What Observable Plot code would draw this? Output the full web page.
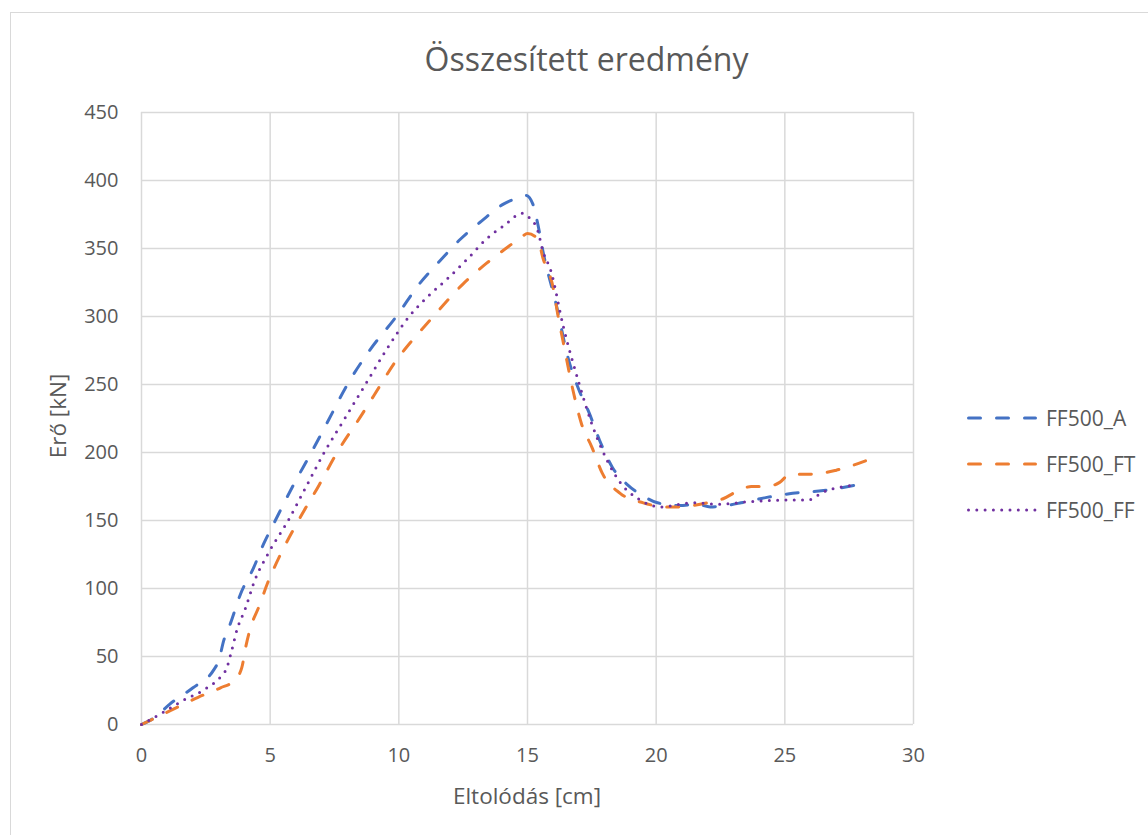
<!DOCTYPE html>
<html><head><meta charset="utf-8">
<script src="https://cdn.jsdelivr.net/npm/d3@7"></script>
<script src="https://cdn.jsdelivr.net/npm/@observablehq/plot@0.6"></script>
<style>
body{margin:0;background:#fff;font-family:"Open Sans",sans-serif;}
#wrap{position:relative;width:1148px;height:835px;overflow:hidden;background:#fff}
#border{position:absolute;left:10px;top:12px;width:1300px;height:1000px;border:1px solid #d9d9d9;box-sizing:border-box}
#title{position:absolute;left:0;width:1173px;top:37px;text-align:center;font-size:32px;color:#595959;line-height:44px}
#chart{position:absolute;left:0;top:0}
#legend{position:absolute;left:0;top:0}
.li{position:absolute;left:965px;height:30px;display:flex;align-items:center;font-size:21px;color:#595959}
.li svg{margin-right:7px}
.axt{position:absolute;font-size:22.5px;color:#595959;white-space:nowrap;line-height:30px;height:30px}
#xt{left:327px;width:400px;top:781px;text-align:center}
#yt{left:-142.5px;width:400px;top:401px;text-align:center;transform:rotate(-90deg)}
</style></head>
<body><div id="wrap"><div id="border"></div><div id="chart"></div><div id="title">Összesített eredmény</div><div id="xt" class="axt"></div><div id="yt" class="axt"></div><div id="legend"></div></div>
<script>
const seriesNames = ["FF500_A", "FF500_FT", "FF500_FF"];
const colors = ["#4472C4", "#ED7D31", "#7030A0"];
const xTicks = [0, 5, 10, 15, 20, 25, 30];
const yTicks = [0, 50, 100, 150, 200, 250, 300, 350, 400, 450];
const xTitle = "Eltolódás [cm]";
const yTitle = "Erő [kN]";

const xA = [0, 0.5, 1.1, 2.0, 2.8, 3.0, 3.2, 3.45, 3.85, 4.35, 4.75, 5.2, 5.9, 6.6, 7.3, 8.0, 8.9, 9.9, 10.8, 11.6, 12.4, 13.2, 14.1, 14.6, 14.95, 15.2, 15.4, 15.6, 16.1, 16.6, 17.0, 17.4, 17.8, 18.3, 18.9, 19.5, 20.05, 20.9, 21.6, 22.1, 22.7, 23.3, 24.3, 25.3, 26.5, 27.75];
const yA = [0, 5, 15, 27, 40, 47, 62, 74, 96, 115, 133, 150, 176, 200, 225, 250, 276, 300, 324, 341, 357, 370, 383, 387, 389, 383, 368, 348, 310, 268, 246, 229, 209, 189, 176, 168, 163, 161, 162, 160, 161, 163, 167, 170, 172, 176];

const xFT = [0, 1.1, 2.2, 3.07, 3.6, 3.9, 4.05, 4.25, 4.55, 4.9, 5.4, 6.1, 6.9, 7.6, 8.5, 9.3, 9.8, 10.5, 11.2, 12.5, 13.4, 14.3, 14.8, 15.0, 15.4, 15.6, 16.0, 16.2, 16.4, 16.8, 17.1, 17.5, 17.9, 18.6, 19.5, 20.4, 20.8, 22.0, 22.6, 23.2, 23.7, 24.3, 24.8, 25.2, 26.0, 27.0, 28.3];
const yFT = [0, 10, 20, 27, 32, 42, 57, 72, 86, 104, 125, 150, 176, 200, 226, 250, 265, 282, 297, 324, 339, 352, 359, 361, 357, 343, 321, 299, 280, 243, 221, 204, 185, 170, 163, 160, 160, 163, 166, 172, 175, 175, 178, 184, 184, 187, 195];

const xFF = [0, 0.85, 1.6, 2.55, 3.07, 3.3, 3.5, 3.7, 4.05, 4.4, 4.9, 5.7, 6.4, 7.1, 7.9, 8.7, 9.5, 10.4, 11.2, 11.9, 12.7, 13.4, 14.1, 14.8, 15.05, 15.4, 15.6, 15.9, 16.4, 17.0, 17.5, 18.1, 18.6, 19.3, 20.2, 21.4, 22.4, 23.7, 24.95, 25.9, 26.5, 27.75];
const yFF = [0, 9, 17.5, 27, 35, 41, 54, 69, 86, 106, 125, 150, 175, 200, 225, 250, 275, 300, 316, 328, 343, 357, 367, 376, 373, 363, 348, 334, 292, 251, 221, 194, 178, 166, 160, 163, 162, 164, 165, 165, 171, 176];

const xs = [xA, xFT, xFF], ys = [yA, yFT, yFF];
const dashes = ["12,16", "12,16", "0,8.3"];
const tables = xs.map((xx, i) => xx.map((x, j) => ({x, y: ys[i][j]})));

const font = "'Open Sans', sans-serif";
const chart = Plot.plot({
  width: 1148, height: 835,
  marginLeft: 141, marginRight: 235, marginTop: 112, marginBottom: 111,
  style: {fontSize: "20px", fontFamily: font, color: "#595959", background: "transparent", overflow: "visible"},
  x: {domain: [0, 30]},
  y: {domain: [0, 450]},
  marks: [
    Plot.gridX(xTicks, {stroke: "#d9d9d9", strokeOpacity: 1, strokeWidth: 1.5}),
    Plot.gridY(yTicks, {stroke: "#d9d9d9", strokeOpacity: 1, strokeWidth: 1.5}),
    Plot.axisX(xTicks, {tickSize: 0, tickPadding: 23, fontSize: 20, label: null, fill: "#595959"}),
    Plot.axisY(yTicks, {tickSize: 0, tickPadding: 23, fontSize: 20, label: null, fill: "#595959"}),
    ...tables.map((t, i) => Plot.line(t, {x: "x", y: "y", stroke: colors[i], strokeWidth: 3, strokeDasharray: dashes[i], strokeLinecap: "round", curve: "monotone-x"}))
  ]
});
document.getElementById("chart").appendChild(chart);
document.getElementById("xt").textContent = xTitle;
document.getElementById("yt").textContent = yTitle;

const leg = document.getElementById("legend");
const legY = [418, 464, 510];
seriesNames.forEach((name, i) => {
  const d = document.createElement("div");
  d.className = "li";
  d.style.top = (legY[i] - 15) + "px";
  d.innerHTML = `<svg width="74" height="10"><line x1="3.5" x2="70.5" y1="5" y2="5" stroke="${colors[i]}" stroke-width="3" stroke-linecap="round" stroke-dasharray="${i < 2 ? '12,16' : '0,8.3'}"/></svg><span>${name}</span>`;
  leg.appendChild(d);
});
</script></body></html>
